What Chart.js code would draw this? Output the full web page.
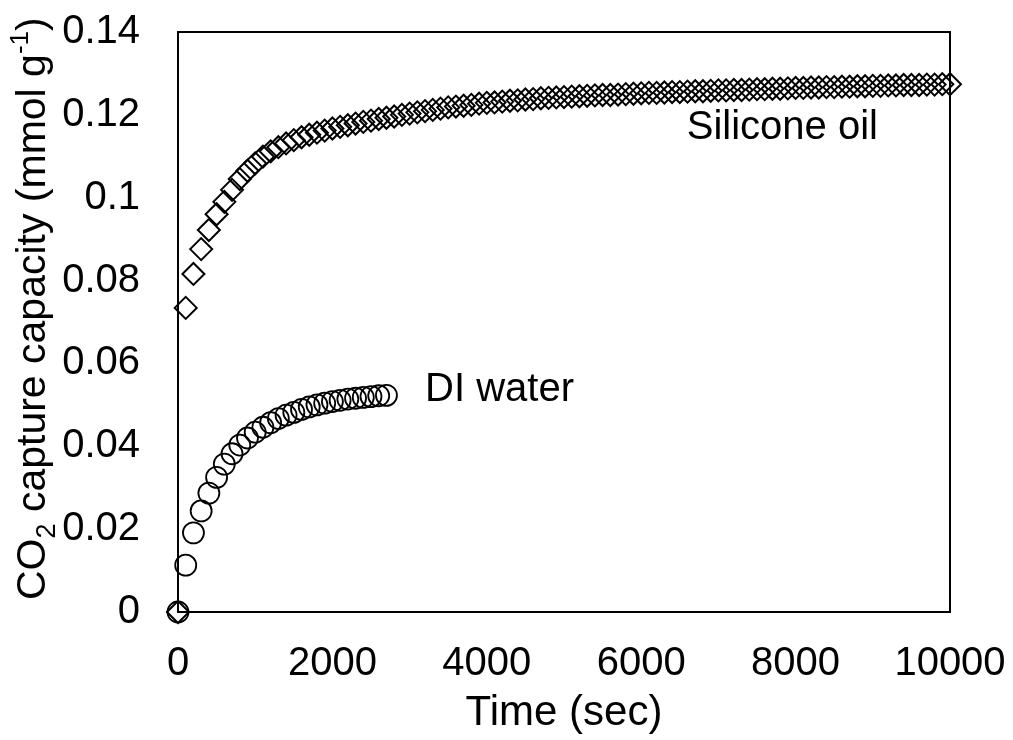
<!DOCTYPE html>
<html>
<head>
<meta charset="utf-8">
<title>CO2 capture capacity</title>
<script src="https://cdn.jsdelivr.net/npm/chart.js@4.4.1/dist/chart.umd.min.js"></script>
<style>
  html, body { margin: 0; padding: 0; background: #fff; }
  #wrap { width: 1013px; height: 740px; position: relative; }
</style>
</head>
<body>
<div id="wrap"><canvas id="captureChart"></canvas></div>
<script>
// sampling times (sec)
const timeSec = [
  0, 100, 200, 300, 400, 500, 600, 700, 800, 900,
  1000, 1100, 1200, 1300, 1400, 1500, 1600, 1700, 1800, 1900,
  2000, 2100, 2200, 2300, 2400, 2500, 2600, 2700, 2800, 2900,
  3000, 3100, 3200, 3300, 3400, 3500, 3600, 3700, 3800, 3900,
  4000, 4100, 4200, 4300, 4400, 4500, 4600, 4700, 4800, 4900,
  5000, 5100, 5200, 5300, 5400, 5500, 5600, 5700, 5800, 5900,
  6000, 6100, 6200, 6300, 6400, 6500, 6600, 6700, 6800, 6900,
  7000, 7100, 7200, 7300, 7400, 7500, 7600, 7700, 7800, 7900,
  8000, 8100, 8200, 8300, 8400, 8500, 8600, 8700, 8800, 8900,
  9000, 9100, 9200, 9300, 9400, 9500, 9600, 9700, 9800, 9900,
  10000
];

// capacity, mmol/g
const siliconeOil = [
  0, 0.0734, 0.0816, 0.0876, 0.0922, 0.0960, 0.0990, 0.1019, 0.1045, 0.1065,
  0.1083, 0.1099, 0.1112, 0.1122, 0.1131, 0.1139, 0.1146, 0.1152, 0.1157, 0.1162,
  0.1167, 0.1171, 0.1175, 0.1179, 0.1183, 0.1186, 0.1190, 0.1193, 0.1196, 0.1200,
  0.1203, 0.1206, 0.1209, 0.1212, 0.1215, 0.1218, 0.1220, 0.1222, 0.1224, 0.1227,
  0.1229, 0.1230, 0.1232, 0.1234, 0.1235, 0.1237, 0.1238, 0.1240, 0.1241, 0.1242,
  0.1243, 0.1244, 0.1245, 0.1246, 0.1247, 0.1248, 0.1248, 0.1249, 0.1250, 0.1251,
  0.1252, 0.1253, 0.1253, 0.1254, 0.1255, 0.1255, 0.1256, 0.1257, 0.1257, 0.1258,
  0.1259, 0.1259, 0.1260, 0.1260, 0.1261, 0.1262, 0.1262, 0.1263, 0.1263, 0.1264,
  0.1265, 0.1265, 0.1266, 0.1266, 0.1267, 0.1267, 0.1268, 0.1268, 0.1269, 0.1269,
  0.1270, 0.1270, 0.1271, 0.1271, 0.1272, 0.1272, 0.1272, 0.1273, 0.1273, 0.1274,
  0.1274
];

const diWater = [
  0, 0.0113, 0.0191, 0.0244, 0.0287, 0.0325, 0.0357, 0.0382, 0.0403, 0.0420,
  0.0434, 0.0446, 0.0457, 0.0467, 0.0475, 0.0482, 0.0489, 0.0495, 0.0500, 0.0504,
  0.0508, 0.0511, 0.0514, 0.0516, 0.0518, 0.0520, 0.0522, 0.0523
];

const xTicks = [0, 2000, 4000, 6000, 8000, 10000];
const yTicks = [0, 0.02, 0.04, 0.06, 0.08, 0.1, 0.12, 0.14];
const yTickLabels = ['0', '0.02', '0.04', '0.06', '0.08', '0.1', '0.12', '0.14'];
const seriesNames = ['Silicone oil', 'DI water'];

// where the series names sit, in data units (left edge, middle)
const nameSpots = [
  { t: 6590, v: 0.1168 },
  { t: 3200, v: 0.0536 }
];

const FONT = '"Liberation Sans", Arial, Helvetica, sans-serif';

function toPoints(ys) {
  return ys.map((y, i) => ({ x: timeSec[i], y: y }));
}

// no extra room for overhanging tick labels, the layout padding decides the plot box
function noLabelPadding(s) {
  s.paddingTop = 0;
  s.paddingBottom = 0;
  s.paddingLeft = 0;
  s.paddingRight = 0;
}

// box round the plot, the series names and the y title with sub/superscripts
const decorations = {
  id: 'decorations',
  afterDatasetsDraw(chart) {
    const { ctx, chartArea: a, scales } = chart;
    ctx.save();
    ctx.strokeStyle = '#000';
    ctx.lineWidth = 2;
    ctx.strokeRect(a.left, a.top, a.right - a.left, a.bottom - a.top);

    ctx.fillStyle = '#000';
    ctx.font = '40px ' + FONT;
    ctx.textAlign = 'left';
    ctx.textBaseline = 'middle';
    nameSpots.forEach((s, i) => {
      ctx.fillText(seriesNames[i], scales.x.getPixelForValue(s.t), scales.y.getPixelForValue(s.v));
    });

    // y axis title, rotated
    ctx.translate(45, 600);
    ctx.rotate(-Math.PI / 2);
    ctx.textBaseline = 'alphabetic';
    const parts = [
      { s: 'CO', size: 41, dy: 0 },
      { s: '2', size: 27, dy: 10 },
      { s: ' capture capacity (mmol g', size: 41, dy: 0 },
      { s: '-1', size: 26, dy: -17 },
      { s: ')', size: 41, dy: 0 }
    ];
    let px = 0;
    parts.forEach(p => {
      ctx.font = p.size + 'px ' + FONT;
      ctx.fillText(p.s, px, p.dy);
      px += ctx.measureText(p.s).width;
    });
    ctx.restore();
  }
};

const ctx = document.getElementById('captureChart');

new Chart(ctx, {
  type: 'scatter',
  data: {
    datasets: [{
      label: seriesNames[0],
      data: toPoints(siliconeOil),
      pointStyle: 'rectRot',
      pointRadius: 11,
      pointBorderWidth: 2,
      borderColor: '#000',
      backgroundColor: 'rgba(0,0,0,0)',
      showLine: false,
      clip: false
    }, {
      label: seriesNames[1],
      data: toPoints(diWater),
      pointStyle: 'circle',
      pointRadius: 10.5,
      pointBorderWidth: 1.8,
      borderColor: '#000',
      backgroundColor: 'rgba(0,0,0,0)',
      showLine: false,
      clip: false
    }]
  },
  options: {
    responsive: true,
    maintainAspectRatio: false,
    animation: false,
    layout: { padding: { top: 32, right: 63, left: 0, bottom: 0 } },
    plugins: {
      legend: { display: false },
      tooltip: { enabled: false }
    },
    scales: {
      x: {
        type: 'linear',
        min: 0,
        max: 10000,
        grid: { display: false, drawTicks: false },
        border: { display: false },
        afterBuildTicks: s => { s.ticks = xTicks.map(v => ({ value: v })); },
        afterFit: s => { s.height = 128; noLabelPadding(s); },
        ticks: {
          color: '#000',
          font: { family: FONT, size: 40 },
          padding: 28,
          maxRotation: 0,
          callback: v => String(v)
        },
        title: {
          display: true,
          text: 'Time (sec)',
          color: '#000',
          font: { family: FONT, size: 42, lineHeight: 1 },
          padding: { top: 0, bottom: 6 }
        }
      },
      y: {
        min: 0,
        max: 0.14,
        grid: { display: false, drawTicks: false },
        border: { display: false },
        afterBuildTicks: s => { s.ticks = yTicks.map(v => ({ value: v })); },
        afterFit: s => { s.width = 178; noLabelPadding(s); },
        ticks: {
          color: '#000',
          font: { family: FONT, size: 40 },
          padding: 38,
          callback: (v, i) => yTickLabels[i]
        }
      }
    }
  },
  plugins: [decorations]
});
</script>
</body>
</html>
